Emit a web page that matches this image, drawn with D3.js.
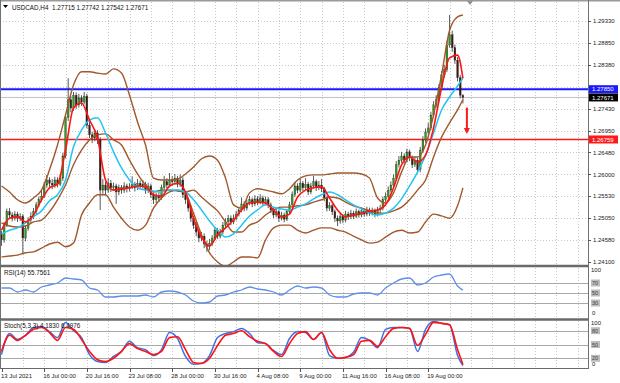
<!DOCTYPE html>
<html><head><meta charset="utf-8">
<script src="https://cdn.jsdelivr.net/npm/d3@7/dist/d3.min.js"></script>
<style>html,body{margin:0;padding:0;background:#fff;}svg{display:block;font-family:"Liberation Sans",Arial,sans-serif;}</style>
</head><body>
<svg id="c" width="620" height="383"></svg>
<script>
// ---------- DATA ----------
const symbolTitle = "USDCAD,H4  1.27715 1.27742 1.27542 1.27671";
const rsiTitle = "RSI(14) 55.7561";
const stochTitle = "Stoch(5,3,3) 4.1830 6.4976";

const open = [1.2470,1.2458,1.2490,1.2519,1.2512,1.2505,1.2514,1.2505,1.2509,1.2462,1.2483,1.2501,1.2509,1.2519,1.2534,1.2545,1.2553,1.2577,1.2588,1.2581,1.2577,1.2588,1.2579,1.2592,1.2640,1.2723,1.2762,1.2744,1.2772,1.2751,1.2766,1.2757,1.2770,1.2707,1.2686,1.2679,1.2690,1.2675,1.2566,1.2577,1.2566,1.2581,1.2571,1.2575,1.2562,1.2571,1.2566,1.2575,1.2569,1.2573,1.2579,1.2571,1.2581,1.2575,1.2579,1.2566,1.2575,1.2556,1.2545,1.2553,1.2549,1.2571,1.2584,1.2577,1.2588,1.2584,1.2592,1.2579,1.2588,1.2556,1.2545,1.2527,1.2505,1.2490,1.2475,1.2462,1.2466,1.2449,1.2443,1.2451,1.2462,1.2479,1.2466,1.2475,1.2490,1.2497,1.2505,1.2497,1.2505,1.2514,1.2523,1.2536,1.2527,1.2538,1.2545,1.2536,1.2547,1.2540,1.2549,1.2538,1.2545,1.2534,1.2523,1.2512,1.2519,1.2505,1.2512,1.2503,1.2519,1.2534,1.2556,1.2575,1.2566,1.2581,1.2571,1.2579,1.2562,1.2575,1.2584,1.2571,1.2577,1.2569,1.2549,1.2527,1.2532,1.2519,1.2505,1.2499,1.2509,1.2501,1.2514,1.2508,1.2516,1.2509,1.2519,1.2512,1.2521,1.2514,1.2523,1.2516,1.2521,1.2514,1.2523,1.2527,1.2545,1.2553,1.2566,1.2577,1.2592,1.2621,1.2631,1.2640,1.2631,1.2649,1.2636,1.2621,1.2631,1.2610,1.2653,1.2675,1.2692,1.2701,1.2729,1.2751,1.2762,1.2788,1.2816,1.2827,1.2881,1.2903,1.2875,1.2848,1.2810,1.27715];
const high = [1.2478,1.2497,1.2526,1.2527,1.2518,1.2520,1.2519,1.2516,1.2514,1.2490,1.2507,1.2518,1.2527,1.2540,1.2552,1.2566,1.2584,1.2599,1.2594,1.2590,1.2595,1.2594,1.2601,1.2647,1.2730,1.2809,1.2770,1.2779,1.2778,1.2775,1.2772,1.2779,1.2775,1.2714,1.2693,1.2697,1.2696,1.2681,1.2590,1.2584,1.2592,1.2588,1.2582,1.2580,1.2578,1.2577,1.2583,1.2580,1.2581,1.2596,1.2584,1.2590,1.2587,1.2588,1.2584,1.2582,1.2580,1.2560,1.2560,1.2561,1.2578,1.2597,1.2592,1.2603,1.2596,1.2601,1.2597,1.2600,1.2594,1.2562,1.2550,1.2533,1.2510,1.2496,1.2481,1.2475,1.2472,1.2456,1.2460,1.2468,1.2486,1.2484,1.2482,1.2497,1.2505,1.2512,1.2511,1.2513,1.2521,1.2530,1.2550,1.2542,1.2545,1.2553,1.2550,1.2555,1.2553,1.2557,1.2554,1.2552,1.2551,1.2539,1.2528,1.2526,1.2524,1.2519,1.2517,1.2525,1.2541,1.2563,1.2584,1.2581,1.2590,1.2586,1.2592,1.2584,1.2582,1.2597,1.2589,1.2586,1.2590,1.2573,1.2554,1.2540,1.2537,1.2524,1.2511,1.2516,1.2514,1.2521,1.2519,1.2523,1.2521,1.2526,1.2524,1.2528,1.2526,1.2530,1.2528,1.2528,1.2526,1.2530,1.2534,1.2552,1.2561,1.2574,1.2585,1.2600,1.2629,1.2640,1.2649,1.2646,1.2656,1.2654,1.2641,1.2638,1.2636,1.2660,1.2683,1.2700,1.2712,1.2736,1.2759,1.2772,1.2796,1.2824,1.2838,1.2890,1.2946,1.2912,1.2882,1.2855,1.2816,1.27742];
const low = [1.2445,1.2452,1.2486,1.2505,1.2498,1.2500,1.2497,1.2499,1.2427,1.2455,1.2478,1.2494,1.2503,1.2514,1.2529,1.2540,1.2549,1.2571,1.2573,1.2568,1.2571,1.2572,1.2575,1.2586,1.2635,1.2716,1.2735,1.2738,1.2742,1.2745,1.2749,1.2752,1.2700,1.2679,1.2668,1.2672,1.2666,1.2523,1.2558,1.2555,1.2560,1.2562,1.2564,1.2536,1.2555,1.2558,1.2560,1.2561,1.2563,1.2568,1.2563,1.2566,1.2568,1.2569,1.2558,1.2560,1.2549,1.2536,1.2538,1.2540,1.2545,1.2566,1.2570,1.2572,1.2576,1.2578,1.2572,1.2573,1.2549,1.2536,1.2519,1.2497,1.2482,1.2466,1.2453,1.2455,1.2440,1.2432,1.2436,1.2445,1.2457,1.2460,1.2461,1.2470,1.2484,1.2491,1.2490,1.2492,1.2500,1.2509,1.2518,1.2520,1.2522,1.2533,1.2529,1.2531,1.2533,1.2535,1.2531,1.2533,1.2527,1.2516,1.2505,1.2507,1.2497,1.2500,1.2496,1.2499,1.2514,1.2529,1.2551,1.2559,1.2561,1.2564,1.2566,1.2555,1.2557,1.2570,1.2564,1.2566,1.2562,1.2542,1.2520,1.2521,1.2512,1.2497,1.2488,1.2493,1.2494,1.2496,1.2501,1.2503,1.2503,1.2505,1.2506,1.2507,1.2508,1.2509,1.2510,1.2511,1.2507,1.2509,1.2516,1.2522,1.2540,1.2548,1.2561,1.2572,1.2587,1.2615,1.2625,1.2623,1.2626,1.2629,1.2614,1.2616,1.2603,1.2605,1.2648,1.2669,1.2686,1.2696,1.2724,1.2745,1.2757,1.2782,1.2810,1.2822,1.2875,1.2866,1.2840,1.2802,1.2765,1.27542];
const close = [1.2458,1.2490,1.2519,1.2512,1.2505,1.2514,1.2505,1.2509,1.2462,1.2483,1.2501,1.2509,1.2519,1.2534,1.2545,1.2553,1.2577,1.2588,1.2581,1.2577,1.2588,1.2579,1.2592,1.2640,1.2723,1.2762,1.2744,1.2772,1.2751,1.2766,1.2757,1.2770,1.2707,1.2686,1.2679,1.2690,1.2675,1.2566,1.2577,1.2566,1.2581,1.2571,1.2575,1.2562,1.2571,1.2566,1.2575,1.2569,1.2573,1.2579,1.2571,1.2581,1.2575,1.2579,1.2566,1.2575,1.2556,1.2545,1.2553,1.2549,1.2571,1.2584,1.2577,1.2588,1.2584,1.2592,1.2579,1.2588,1.2556,1.2545,1.2527,1.2505,1.2490,1.2475,1.2462,1.2466,1.2449,1.2443,1.2451,1.2462,1.2479,1.2466,1.2475,1.2490,1.2497,1.2505,1.2497,1.2505,1.2514,1.2523,1.2536,1.2527,1.2538,1.2545,1.2536,1.2547,1.2540,1.2549,1.2538,1.2545,1.2534,1.2523,1.2512,1.2519,1.2505,1.2512,1.2503,1.2519,1.2534,1.2556,1.2575,1.2566,1.2581,1.2571,1.2579,1.2562,1.2575,1.2584,1.2571,1.2577,1.2569,1.2549,1.2527,1.2532,1.2519,1.2505,1.2499,1.2509,1.2501,1.2514,1.2508,1.2516,1.2509,1.2519,1.2512,1.2521,1.2514,1.2523,1.2516,1.2521,1.2514,1.2523,1.2527,1.2545,1.2553,1.2566,1.2577,1.2592,1.2621,1.2631,1.2640,1.2631,1.2649,1.2636,1.2621,1.2631,1.2610,1.2653,1.2675,1.2692,1.2701,1.2729,1.2751,1.2762,1.2788,1.2816,1.2827,1.2881,1.2903,1.2875,1.2848,1.2810,1.2772,1.27671];

// indicator lines, one value every 3rd bar (bars 0,3,...,171) plus the last bar 173
const maFast = [1.2479,1.2505,1.2508,1.2497,1.2512,1.2545,1.2571,1.2579,1.2653,1.2744,1.2755,1.2718,1.2679,1.2588,1.2566,1.2569,1.2571,1.2575,1.2573,1.2556,1.2553,1.2575,1.2581,1.2562,1.2505,1.2464,1.2445,1.2469,1.2484,1.2501,1.2523,1.2538,1.2540,1.2538,1.2523,1.2508,1.2514,1.2551,1.2566,1.2571,1.2573,1.2549,1.2523,1.2508,1.2512,1.2516,1.2521,1.2523,1.2534,1.2571,1.2621,1.2638,1.2627,1.2642,1.2701,1.2788,1.2853,1.2859,1.2809];
const maSlow = [1.2471,1.2479,1.2484,1.2495,1.2508,1.2521,1.2543,1.2556,1.2588,1.2660,1.2696,1.2718,1.2723,1.2690,1.2649,1.2614,1.2588,1.2571,1.2566,1.2564,1.2562,1.2566,1.2566,1.2562,1.2545,1.2523,1.2499,1.2479,1.2464,1.2471,1.2490,1.2510,1.2523,1.2534,1.2529,1.2525,1.2523,1.2529,1.2536,1.2547,1.2556,1.2562,1.2556,1.2545,1.2534,1.2525,1.2516,1.2512,1.2516,1.2527,1.2547,1.2575,1.2605,1.2642,1.2690,1.2740,1.2768,1.2792,1.2809];
const bbUpper = [1.2575,1.2562,1.2545,1.2538,1.2549,1.2566,1.2610,1.2664,1.2729,1.2794,1.2823,1.2823,1.2820,1.2818,1.2829,1.2820,1.2772,1.2714,1.2664,1.2592,1.2588,1.2588,1.2590,1.2601,1.2616,1.2634,1.2640,1.2631,1.2592,1.2534,1.2527,1.2560,1.2569,1.2566,1.2562,1.2558,1.2569,1.2588,1.2597,1.2599,1.2599,1.2601,1.2603,1.2603,1.2603,1.2601,1.2592,1.2549,1.2538,1.2560,1.2605,1.2638,1.2638,1.2664,1.2729,1.2816,1.2913,1.2942,1.2946];
const bbMiddle = [1.2495,1.2488,1.2486,1.2488,1.2497,1.2501,1.2519,1.2545,1.2577,1.2621,1.2653,1.2675,1.2686,1.2688,1.2675,1.2664,1.2631,1.2601,1.2577,1.2562,1.2566,1.2566,1.2564,1.2562,1.2566,1.2551,1.2536,1.2521,1.2497,1.2475,1.2475,1.2490,1.2497,1.2512,1.2523,1.2529,1.2529,1.2532,1.2534,1.2540,1.2545,1.2551,1.2549,1.2540,1.2532,1.2527,1.2521,1.2516,1.2516,1.2521,1.2529,1.2545,1.2566,1.2588,1.2638,1.2681,1.2712,1.2740,1.2762];
const bbLower = [1.2421,1.2423,1.2425,1.2430,1.2432,1.2440,1.2449,1.2453,1.2443,1.2451,1.2512,1.2538,1.2556,1.2556,1.2529,1.2505,1.2486,1.2479,1.2490,1.2527,1.2549,1.2562,1.2566,1.2558,1.2516,1.2469,1.2430,1.2410,1.2401,1.2410,1.2421,1.2421,1.2419,1.2458,1.2484,1.2490,1.2490,1.2479,1.2473,1.2479,1.2484,1.2484,1.2479,1.2475,1.2466,1.2458,1.2451,1.2453,1.2464,1.2475,1.2479,1.2473,1.2475,1.2497,1.2514,1.2510,1.2505,1.2532,1.2571];
const rsi = [60,60,52,56,52,62,66,70,80,78,76,60,56,42,42,44,44,44,46,42,52,54,52,46,34,30,32,44,46,52,56,62,58,56,52,46,56,64,60,62,60,46,42,42,48,50,50,46,60,70,78,80,66,70,82,86,88,64,55.76];
const stochK = [28,74,61,70,87,89,78,65,98,80,65,28,13,11,24,35,57,43,39,26,39,76,63,24,7,9,26,65,74,78,85,74,54,52,37,28,63,78,76,61,76,26,20,22,33,65,59,43,83,87,87,85,35,83,100,96,93,26,4.18];
const stochD = [35,70,59,70,83,87,76,59,87,83,61,35,17,13,20,35,52,41,35,28,35,65,67,39,11,9,20,48,70,74,80,67,57,52,35,24,52,74,78,61,76,39,20,22,28,57,59,46,67,85,87,85,48,72,98,96,93,39,6.50];

const priceTicks = [1.24100,1.24580,1.25050,1.25530,1.26000,1.26480,1.26950,1.27430,1.27900,1.28380,1.28850,1.29330];
const hiddenTick = 1.27900; // its label sits under the blue level tag
const timeLabels = [[0,"13 Jul 2021"],[16,"16 Jul 00:00"],[32,"20 Jul 16:00"],[48,"23 Jul 08:00"],[64,"28 Jul 00:00"],[80,"30 Jul 16:00"],[96,"4 Aug 08:00"],[112,"9 Aug 00:00"],[128,"11 Aug 16:00"],[144,"16 Aug 08:00"],[160,"19 Aug 00:00"]];
const blueLevel = 1.27850, redLevel = 1.26759, bidPrice = 1.27671;
const arrowBar = 174.5, arrowFrom = 1.2745, arrowTo = 1.2690;
const rsiLevels = [70,50,30], stochLevels = [80,50,20];

// ---------- LAYOUT ----------
const svg = d3.select("#c");
const R = 588;
const mainTop = 2, mainBot = 265, rsiTop = 268, rsiBot = 318, stTop = 321, stBot = 368;
const x = d3.scaleLinear().domain([0, 173]).range([1.5, 462.9]);
const y = d3.scaleLinear().domain([1.24100, 1.29330]).range([262, 21]);
const yR = d3.scaleLinear().domain([0, 100]).range([rsiBot, rsiTop]);
const yS = d3.scaleLinear().domain([0, 100]).range([stBot - 0.5, stTop + 0.5]);
const sampleBar = d3.range(0, 172, 3).concat([173]);
const FS = 6;

const defs = svg.append("defs");
[["cMain", mainTop, mainBot], ["cRsi", rsiTop, rsiBot], ["cSt", stTop, stBot]].forEach(([id, t, b]) => {
  defs.append("clipPath").attr("id", id).append("rect").attr("x", 0).attr("y", t).attr("width", R).attr("height", b - t);
});

const gridBars = d3.range(8, 221, 8);
const grid = svg.append("g").attr("stroke", "#c9c9c9").attr("stroke-dasharray", "1,2").attr("stroke-width", 1);
[[mainTop, mainBot], [rsiTop, rsiBot], [stTop, stBot]].forEach(([t, b]) => {
  grid.selectAll(null).data(gridBars.filter(i => x(i) < R - 2)).join("line")
    .attr("x1", i => Math.round(x(i)) + 0.5).attr("x2", i => Math.round(x(i)) + 0.5)
    .attr("y1", t).attr("y2", b);
});
grid.selectAll(null).data(priceTicks.slice(1)).join("line")
  .attr("x1", 0).attr("x2", R).attr("y1", d => Math.round(y(d)) + 0.5).attr("y2", d => Math.round(y(d)) + 0.5);

const lvl = svg.append("g").attr("stroke", "#a8a8a8").attr("stroke-width", 1);
lvl.selectAll(null).data(rsiLevels).join("line").attr("x1", 0).attr("x2", R)
  .attr("y1", d => Math.round(yR(d)) + 0.5).attr("y2", d => Math.round(yR(d)) + 0.5);
lvl.selectAll(null).data(stochLevels).join("line").attr("x1", 0).attr("x2", R)
  .attr("y1", d => Math.round(yS(d)) + 0.5).attr("y2", d => Math.round(yS(d)) + 0.5);

const main = svg.append("g").attr("clip-path", "url(#cMain)");
main.append("line").attr("x1", 0).attr("x2", R).attr("y1", y(bidPrice)).attr("y2", y(bidPrice)).attr("stroke", "#c0c0c0").attr("stroke-width", 1);
main.append("line").attr("x1", 0).attr("x2", R).attr("y1", y(blueLevel)).attr("y2", y(blueLevel)).attr("stroke", "#1a1aff").attr("stroke-width", 2);
main.append("line").attr("x1", 0).attr("x2", R).attr("y1", y(redLevel)).attr("y2", y(redLevel)).attr("stroke", "#ff1a1a").attr("stroke-width", 1.6);

const idx = d3.range(close.length);
const cg = main.append("g");
cg.selectAll("line.w").data(idx).join("line").attr("class", "w")
  .attr("x1", i => x(i)).attr("x2", i => x(i)).attr("y1", i => y(high[i])).attr("y2", i => y(low[i]))
  .attr("stroke", "#303030").attr("stroke-width", 0.8);
cg.selectAll("rect").data(idx).join("rect")
  .attr("x", i => x(i) - 0.9).attr("width", 1.8)
  .attr("y", i => y(Math.max(open[i], close[i])))
  .attr("height", i => Math.max(0.8, Math.abs(y(open[i]) - y(close[i]))))
  .attr("fill", i => close[i] >= open[i] ? "#2f9a1e" : "#3b1a12")
  .attr("stroke", "#303030").attr("stroke-width", 0.3);

function drawLine(g, arr, ys, color, w) {
  const ln = d3.line().x((d, k) => x(sampleBar[k])).y(d => ys(d)).curve(d3.curveMonotoneX);
  g.append("path").datum(arr).attr("d", ln).attr("fill", "none").attr("stroke", color).attr("stroke-width", w).attr("stroke-linejoin", "round");
}
drawLine(main, bbUpper, y, "#a0582c", 1.4);
drawLine(main, bbMiddle, y, "#a0582c", 1.4);
drawLine(main, bbLower, y, "#a0582c", 1.4);
drawLine(main, maSlow, y, "#22c4f2", 1.5);
drawLine(main, maFast, y, "#ff1414", 1.6);

const ax = x(arrowBar);
svg.append("line").attr("x1", ax).attr("x2", ax).attr("y1", y(arrowFrom)).attr("y2", y(arrowTo) - 4)
  .attr("stroke", "#ff1a1a").attr("stroke-width", 2);
svg.append("path").attr("d", `M${ax - 3},${y(arrowTo) - 5}L${ax + 3},${y(arrowTo) - 5}L${ax},${y(arrowTo) + 1}Z`).attr("fill", "#ff1a1a");

const rg = svg.append("g").attr("clip-path", "url(#cRsi)");
drawLine(rg, rsi, yR, "#5f8fe8", 1.3);
const sg = svg.append("g").attr("clip-path", "url(#cSt)");
drawLine(sg, stochK, yS, "#3f6fe0", 1.5);
drawLine(sg, stochD, yS, "#ff1414", 1.6);

const fr = svg.append("g").attr("fill", "none");
fr.append("line").attr("x1", 0).attr("x2", 620).attr("y1", 0.5).attr("y2", 0.5).attr("stroke", "#9a9a9a").attr("stroke-width", 2);
fr.append("line").attr("x1", 0.5).attr("x2", 0.5).attr("y1", 0).attr("y2", stBot).attr("stroke", "#707070");
fr.append("line").attr("x1", R + 0.5).attr("x2", R + 0.5).attr("y1", 0).attr("y2", stBot + 1).attr("stroke", "#707070");
[[mainBot + 1, 2.5], [rsiBot + 1.5, 2.5], [stBot + 0.5, 1.2]].forEach(([yy, w]) => {
  fr.append("line").attr("x1", 0).attr("x2", R).attr("y1", yy).attr("y2", yy).attr("stroke", "#6a6a6a").attr("stroke-width", w);
});
fr.append("path").attr("d", "M467,1L473,1L470,5Z").attr("fill", "#909090");

const pa = svg.append("g").attr("font-size", FS).attr("fill", "#222");
pa.selectAll("line").data(priceTicks).join("line").attr("x1", R).attr("x2", R + 3)
  .attr("y1", d => Math.round(y(d)) + 0.5).attr("y2", d => Math.round(y(d)) + 0.5).attr("stroke", "#555");
pa.selectAll("text").data(priceTicks.filter(d => d !== hiddenTick)).join("text").attr("x", R + 5).attr("y", d => y(d) + 2.2)
  .text(d => d.toFixed(5));

function tag(v, bg) {
  const yy = y(v);
  svg.append("rect").attr("x", R + 1).attr("y", yy - 4).attr("width", 29).attr("height", 8).attr("fill", bg);
  svg.append("text").attr("x", R + 4).attr("y", yy + 2.2).attr("font-size", FS).attr("fill", "#fff").text(v.toFixed(5));
}
tag(blueLevel, "#1a1aff");
tag(bidPrice, "#000");
tag(redLevel, "#ff1a1a");

function levelBox(v, ys) {
  svg.append("rect").attr("x", R + 3).attr("y", ys(v) - 3.5).attr("width", 9).attr("height", 7).attr("fill", "#bdbdbd");
  svg.append("text").attr("x", R + 4).attr("y", ys(v) + 2).attr("font-size", FS - 0.5).attr("fill", "#444").text(v);
}
svg.append("text").attr("x", R + 3).attr("y", rsiTop + 4).attr("font-size", FS).attr("fill", "#222").text("100");
svg.append("text").attr("x", R + 4).attr("y", rsiBot - 3).attr("font-size", FS).attr("fill", "#222").text("0");
rsiLevels.forEach(v => levelBox(v, yR));
svg.append("text").attr("x", R + 3).attr("y", stTop + 4).attr("font-size", FS).attr("fill", "#222").text("100");
svg.append("text").attr("x", R + 4).attr("y", stBot - 2).attr("font-size", FS).attr("fill", "#222").text("0");
stochLevels.forEach(v => levelBox(v, yS));

const ta = svg.append("g").attr("font-size", FS).attr("fill", "#222");
ta.selectAll("line").data(timeLabels).join("line").attr("x1", d => Math.round(x(d[0])) + 0.5).attr("x2", d => Math.round(x(d[0])) + 0.5)
  .attr("y1", stBot).attr("y2", stBot + 4).attr("stroke", "#555");
ta.selectAll("text").data(timeLabels).join("text").attr("x", d => Math.max(1, x(d[0]) - 1)).attr("y", 378).text(d => d[1]);

svg.append("path").attr("d", "M3,5L8,5L5.5,8Z").attr("fill", "#000");
svg.append("text").attr("x", 12).attr("y", 9.5).attr("font-size", 6.3).attr("fill", "#111").attr("xml:space", "preserve").text(symbolTitle);
svg.append("text").attr("x", 4).attr("y", rsiTop + 7).attr("font-size", 6.3).attr("fill", "#111").text(rsiTitle);
svg.append("text").attr("x", 4).attr("y", stTop + 7).attr("font-size", 6.3).attr("fill", "#111").text(stochTitle);
</script>
</body></html>
